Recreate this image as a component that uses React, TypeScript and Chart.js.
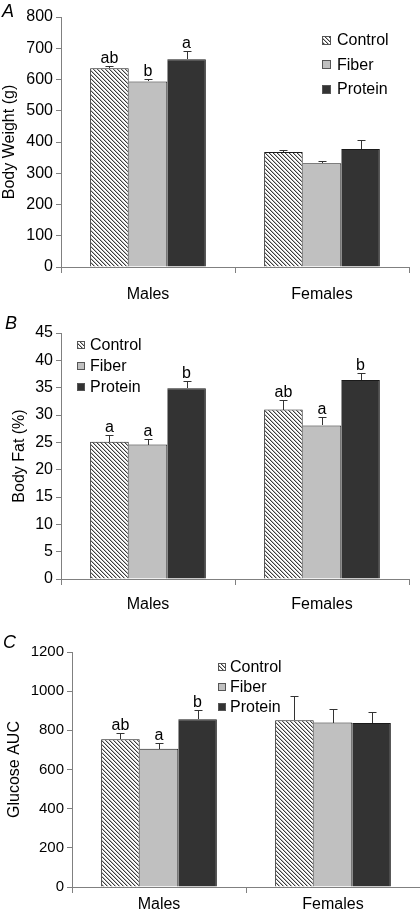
import React, { useEffect, useRef } from "react";
import { Chart, registerables } from "chart.js";

Chart.register(...registerables);

// ---------- data ----------
const categories = ["Males", "Females"];
const seriesNames = ["Control", "Fiber", "Protein"];

// Panel A: Body Weight (g)
const weightControl = [636, 368];
const weightFiber = [594, 332];
const weightProtein = [665, 378];
const weightControlErr = [8, 6];
const weightFiberErr = [8, 8];
const weightProteinErr = [26, 27];
const weightControlLetters = ["ab", ""];
const weightFiberLetters = ["b", ""];
const weightProteinLetters = ["a", ""];

// Panel B: Body Fat (%)
const fatControl = [25.1, 31.0];
const fatFiber = [24.6, 28.1];
const fatProtein = [34.9, 36.4];
const fatControlErr = [1.2, 1.7];
const fatFiberErr = [1.1, 1.5];
const fatProteinErr = [1.3, 1.35];
const fatControlLetters = ["a", "ab"];
const fatFiberLetters = ["a", "a"];
const fatProteinLetters = ["b", "b"];

// Panel C: Glucose AUC
const glucoseControl = [754, 852];
const glucoseFiber = [706, 840];
const glucoseProtein = [856, 838];
const glucoseControlErr = [30, 124];
const glucoseFiberErr = [27, 68];
const glucoseProteinErr = [47, 55];
const glucoseControlLetters = ["ab", ""];
const glucoseFiberLetters = ["a", ""];
const glucoseProteinLetters = ["b", ""];

const FONT = "'Liberation Sans', Arial, Helvetica, sans-serif";

type PanelProps = {
  letter: string;
  yTitle: string;
  values: number[][];
  errors: number[][];
  letters: string[][];
  yMax: number;
  step: number;
  top: number;
  height: number;
  yAxisWidth: number;
  padTop: number;
  padRight: number;
  xAxisHeight: number;
  xTickPad: number;
  yTickSize: number;
  titlePad: number;
  legendX: number;
  legendY: number;
  legendGap: number;
  legendBox: number;
  legendTextOff: number;
  letterX: number;
  letterY: number;
};

function makeHatch(ctx: CanvasRenderingContext2D): CanvasPattern | string {
  const tile = document.createElement("canvas");
  tile.width = 4;
  tile.height = 4;
  const g = tile.getContext("2d");
  if (!g) return "#888";
  const img = g.createImageData(4, 4);
  for (let y = 0; y < 4; y++) {
    for (let x = 0; x < 4; x++) {
      const d = (((x - y) % 4) + 4) % 4;
      const c = d === 0 ? 60 : d === 1 ? 185 : 255;
      const k = (y * 4 + x) * 4;
      img.data[k] = c;
      img.data[k + 1] = c;
      img.data[k + 2] = c;
      img.data[k + 3] = 255;
    }
  }
  g.putImageData(img, 0, 0);
  return ctx.createPattern(tile, "repeat") || "#888";
}

function Panel(p: PanelProps) {
  const ref = useRef<HTMLCanvasElement | null>(null);
  useEffect(() => {
    const canvas = ref.current;
    if (!canvas) return;
    const ctx0 = canvas.getContext("2d") as CanvasRenderingContext2D;
    const hatch = makeHatch(ctx0);
    const fills: (CanvasPattern | string)[] = [hatch, "#c0c0c0", "#333333"];
    const borderWidths = [
      { top: 1, left: 1, right: 1, bottom: 0 },
      { top: 1, left: 0, right: 1, bottom: 0 },
      { top: 1, left: 0, right: 1, bottom: 0 },
    ];

    const overlay = {
      id: "overlay",
      afterDatasetsDraw(chart: any) {
        const ctx: CanvasRenderingContext2D = chart.ctx;
        const ys = chart.scales.y;
        ctx.save();
        chart.data.datasets.forEach((ds: any, i: number) => {
          const meta = chart.getDatasetMeta(i);
          meta.data.forEach((el: any, j: number) => {
            const v = ds.data[j] as number;
            const e = p.errors[i][j];
            const topPx = Math.round(ys.getPixelForValue(v + e)) + 0.5;
            const x = Math.round(el.x) + 0.5;
            ctx.strokeStyle = "#333";
            ctx.lineWidth = 1;
            ctx.beginPath();
            ctx.moveTo(x, Math.round(el.y));
            ctx.lineTo(x, topPx);
            ctx.moveTo(x - 4, topPx);
            ctx.lineTo(x + 4, topPx);
            ctx.stroke();
            const lab = p.letters[i][j];
            if (lab) {
              ctx.fillStyle = "#000";
              ctx.font = `16px ${FONT}`;
              ctx.textAlign = "center";
              ctx.textBaseline = "alphabetic";
              ctx.fillText(lab, el.x, topPx - 4);
            }
          });
        });
        ctx.restore();
      },
      afterDraw(chart: any) {
        const ctx: CanvasRenderingContext2D = chart.ctx;
        ctx.save();
        seriesNames.forEach((name, i) => {
          const cy = p.legendY + i * p.legendGap;
          const b = p.legendBox;
          const bx = p.legendX;
          const by = Math.round(cy - b / 2);
          ctx.fillStyle = fills[i] as any;
          ctx.fillRect(bx, by, b, b);
          ctx.strokeStyle = "#555";
          ctx.lineWidth = 1;
          ctx.strokeRect(bx + 0.5, by + 0.5, b - 1, b - 1);
          ctx.fillStyle = "#000";
          ctx.font = `16px ${FONT}`;
          ctx.textAlign = "left";
          ctx.textBaseline = "middle";
          ctx.fillText(name, bx + p.legendTextOff, cy + 1);
        });
        ctx.fillStyle = "#000";
        ctx.font = `italic 18px ${FONT}`;
        ctx.textAlign = "left";
        ctx.textBaseline = "alphabetic";
        ctx.fillText(p.letter, p.letterX, p.letterY);
        ctx.restore();
      },
    };

    const chart = new Chart(canvas, {
      type: "bar",
      data: {
        labels: categories,
        datasets: seriesNames.map((name, i) => ({
          label: name,
          data: p.values[i],
          backgroundColor: fills[i] as any,
          borderColor: "#1a1a1a",
          borderWidth: borderWidths[i] as any,
          borderSkipped: false as any,
          categoryPercentage: 0.665,
          barPercentage: 1.0,
        })),
      },
      options: {
        responsive: false,
        animation: false,
        layout: { padding: { top: p.padTop, right: p.padRight, bottom: 0, left: 0 } },
        plugins: {
          legend: { display: false },
          tooltip: { enabled: false },
        },
        scales: {
          x: {
            grid: {
              display: true,
              drawOnChartArea: false,
              drawTicks: true,
              tickLength: 6,
              color: "#808080",
              offset: true,
            },
            border: { display: true, color: "#808080", width: 1 },
            ticks: {
              color: "#000",
              font: { family: FONT, size: 16 },
              padding: p.xTickPad,
              maxRotation: 0,
            },
            afterFit: (s: any) => {
              s.height = p.xAxisHeight;
            },
          },
          y: {
            min: 0,
            max: p.yMax,
            ticks: {
              stepSize: p.step,
              color: "#000",
              font: { family: FONT, size: p.yTickSize },
              padding: 3,
              callback: (v: any) => String(v),
            },
            grid: {
              display: true,
              drawOnChartArea: false,
              drawTicks: true,
              tickLength: 5,
              color: "#808080",
            },
            border: { display: true, color: "#808080", width: 1 },
            title: {
              display: true,
              text: p.yTitle,
              color: "#000",
              font: { family: FONT, size: 16 },
              padding: { top: p.titlePad, bottom: 0 },
            },
            afterFit: (s: any) => {
              s.width = p.yAxisWidth;
            },
          },
        },
      },
      plugins: [overlay],
    });
    return () => chart.destroy();
  }, []);

  return (
    <canvas
      ref={ref}
      width={420}
      height={p.height}
      style={{ position: "absolute", left: 0, top: p.top, width: 420, height: p.height }}
    />
  );
}

export default function App() {
  return (
    <div style={{ position: "absolute", left: 0, top: 0, width: 420, height: 920, background: "#fff", overflow: "hidden" }}>
      <Panel
        letter="A"
        yTitle="Body Weight (g)"
        values={[weightControl, weightFiber, weightProtein]}
        errors={[weightControlErr, weightFiberErr, weightProteinErr]}
        letters={[weightControlLetters, weightFiberLetters, weightProteinLetters]}
        yMax={800}
        step={100}
        top={0}
        height={310}
        yAxisWidth={61}
        padTop={17}
        padRight={11}
        xAxisHeight={43}
        xTickPad={12}
        yTickSize={16}
        titlePad={0}
        legendX={322}
        legendY={40}
        legendGap={24.5}
        legendBox={9}
        legendTextOff={15}
        letterX={2}
        letterY={17}
      />
      <Panel
        letter="B"
        yTitle="Body Fat (%)"
        values={[fatControl, fatFiber, fatProtein]}
        errors={[fatControlErr, fatFiberErr, fatProteinErr]}
        letters={[fatControlLetters, fatFiberLetters, fatProteinLetters]}
        yMax={45}
        step={5}
        top={310}
        height={305}
        yAxisWidth={61}
        padTop={23}
        padRight={11}
        xAxisHeight={36}
        xTickPad={10}
        yTickSize={16}
        titlePad={10}
        legendX={77}
        legendY={35}
        legendGap={21}
        legendBox={8}
        legendTextOff={13}
        letterX={5}
        letterY={19}
      />
      <Panel
        letter="C"
        yTitle="Glucose AUC"
        values={[glucoseControl, glucoseFiber, glucoseProtein]}
        errors={[glucoseControlErr, glucoseFiberErr, glucoseProteinErr]}
        letters={[glucoseControlLetters, glucoseFiberLetters, glucoseProteinLetters]}
        yMax={1200}
        step={200}
        top={615}
        height={305}
        yAxisWidth={72}
        padTop={37}
        padRight={0}
        xAxisHeight={33}
        xTickPad={2}
        yTickSize={15}
        titlePad={5}
        legendX={218}
        legendY={52}
        legendGap={20}
        legendBox={8}
        legendTextOff={12}
        letterX={3}
        letterY={33}
      />
    </div>
  );
}
